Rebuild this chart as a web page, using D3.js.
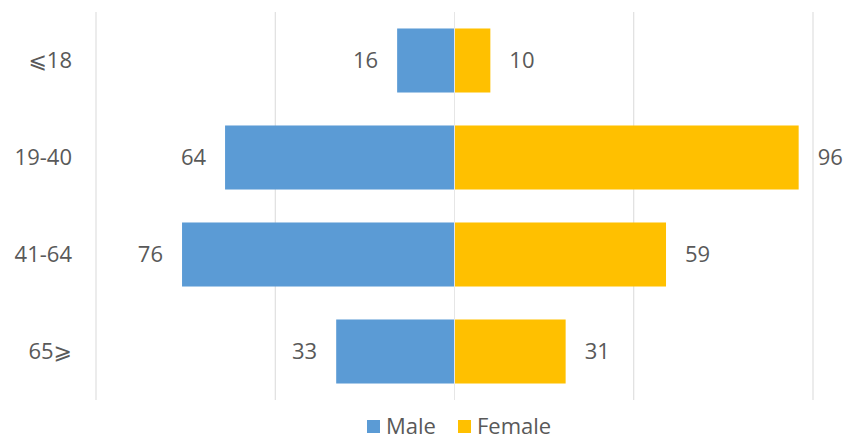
<!DOCTYPE html>
<html>
<head>
<meta charset="utf-8">
<script src="https://cdn.jsdelivr.net/npm/d3@7"></script>
<style>
  html, body { margin: 0; padding: 0; background: #ffffff; }
  svg { display: block; }
  text { font-family: "Open Sans", "Liberation Sans", sans-serif; fill: #595959; }
</style>
</head>
<body>
<svg id="chart" width="845" height="439"></svg>
<script>
// Age groups (top to bottom) and counts per sex
const ageGroups = ["⩽18", "19-40", "41-64", "65⩾"];
const maleCounts = [16, 64, 76, 33];
const femaleCounts = [10, 96, 59, 31];
const gridTicks = [-100, -50, 0, 50, 100];
const seriesNames = ["Male", "Female"];
const seriesColors = ["#5B9BD5", "#FFC000"];

const svg = d3.select("#chart");
const margin = { top: 12, right: 32, bottom: 39, left: 96 };
const width = 845 - margin.left - margin.right;
const height = 439 - margin.top - margin.bottom;

const g = svg.append("g").attr("transform", `translate(${margin.left},${margin.top})`);

const x = d3.scaleLinear().domain([-100, 100]).range([0, width]);
const y = d3.scaleBand().domain(ageGroups).range([0, height]).paddingInner(0.34).paddingOuter(0.17);

// vertical gridlines
g.append("g").selectAll("line")
  .data(gridTicks.filter(t => t !== 0))
  .join("line")
  .attr("x1", d => x(d)).attr("x2", d => x(d))
  .attr("y1", 0).attr("y2", height)
  .attr("stroke", "#D9D9D9").attr("stroke-width", 1);

const rows = ageGroups.map((a, i) => ({ age: a, male: maleCounts[i], female: femaleCounts[i] }));

// male bars extend left from zero
g.append("g").selectAll("rect")
  .data(rows).join("rect")
  .attr("x", d => x(-d.male))
  .attr("y", d => y(d.age))
  .attr("width", d => x(0) - x(-d.male))
  .attr("height", y.bandwidth())
  .attr("fill", seriesColors[0]);

// female bars extend right from zero
g.append("g").selectAll("rect")
  .data(rows).join("rect")
  .attr("x", x(0))
  .attr("y", d => y(d.age))
  .attr("width", d => x(d.female) - x(0))
  .attr("height", y.bandwidth())
  .attr("fill", seriesColors[1]);

// zero line
g.append("line")
  .attr("x1", x(0)).attr("x2", x(0))
  .attr("y1", 0).attr("y2", height)
  .attr("stroke", "#E6E6E6").attr("stroke-width", 1);

// value labels
g.append("g").selectAll("text")
  .data(rows).join("text")
  .attr("x", d => x(-d.male) - 19)
  .attr("y", d => y(d.age) + y.bandwidth() / 2)
  .attr("dy", "0.36em")
  .attr("text-anchor", "end")
  .attr("font-size", 22)
  .text(d => d.male);

g.append("g").selectAll("text")
  .data(rows).join("text")
  .attr("x", d => x(d.female) + 19)
  .attr("y", d => y(d.age) + y.bandwidth() / 2)
  .attr("dy", "0.36em")
  .attr("text-anchor", "start")
  .attr("font-size", 22)
  .text(d => d.female);

// category axis labels
const yAxis = d3.axisLeft(y).tickSize(0).tickPadding(24);
const ya = g.append("g").call(yAxis);
ya.select(".domain").remove();
ya.selectAll("text")
  .attr("font-size", 22)
  .style("font-family", "'Open Sans', 'DejaVu Sans', sans-serif")
  .attr("fill", "#595959");

// legend
const legendX = [367, 458];
const legend = svg.append("g").attr("transform", "translate(0,420)");
const items = legend.selectAll("g").data(seriesNames).join("g")
  .attr("transform", (d, i) => `translate(${legendX[i]},0)`);
items.append("rect")
  .attr("width", 13).attr("height", 13)
  .attr("fill", (d, i) => seriesColors[i]);
items.append("text")
  .attr("x", 19).attr("y", 6.5)
  .attr("dy", "0.36em")
  .attr("font-size", 22)
  .text(d => d);
</script>
</body>
</html>
